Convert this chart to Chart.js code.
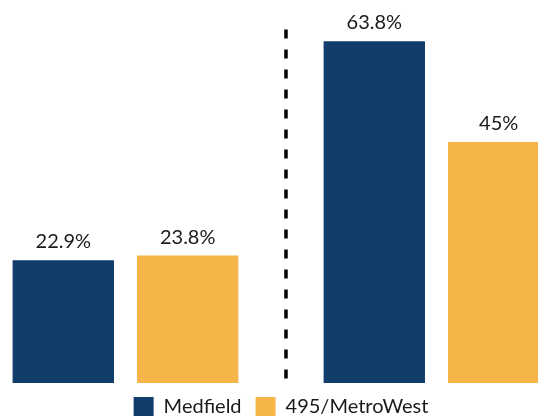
<!DOCTYPE html>
<html>
<head>
<meta charset="utf-8">
<script src="https://cdn.jsdelivr.net/npm/chart.js@4"></script>
<style>
  html, body { margin: 0; padding: 0; background: #ffffff; overflow: hidden; width: 538px; height: 416px; }
  #wrap { position: absolute; left: -30px; top: 0; width: 622px; height: 430px; }
</style>
</head>
<body>
<div id="wrap"><canvas id="c"></canvas></div>
<script>
const categories = ['Group A', 'Group B'];
const seriesNames = ['Medfield', '495/MetroWest'];
const medfieldValues = [22.9, 63.8];
const metroWestValues = [23.8, 45];
const seriesColors = ['#113d6b', '#f5b548'];
const dividerIndex = 0.516;
const dividerRange = [0, 66];

const valueLabels = {
  id: 'valueLabels',
  afterDatasetsDraw(chart) {
    const ctx = chart.ctx;
    ctx.save();
    ctx.font = '20px Lato';
    ctx.fillStyle = '#1a1a1a';
    ctx.textAlign = 'center';
    ctx.textBaseline = 'alphabetic';
    chart.data.datasets.forEach((ds, di) => {
      const meta = chart.getDatasetMeta(di);
      meta.data.forEach((bar, i) => {
        ctx.fillText(ds.data[i] + '%', bar.x, bar.y - 12);
      });
    });
    ctx.restore();
  }
};

const divider = {
  id: 'divider',
  afterDatasetsDraw(chart) {
    const ctx = chart.ctx;
    const x = chart.scales.x.getPixelForValue(dividerIndex);
    const y0 = chart.scales.y.getPixelForValue(dividerRange[1]);
    const y1 = chart.scales.y.getPixelForValue(dividerRange[0]);
    ctx.save();
    ctx.strokeStyle = '#000000';
    ctx.lineWidth = 3.5;
    ctx.setLineDash([9, 11]);
    ctx.beginPath();
    ctx.moveTo(x, y0);
    ctx.lineTo(x, y1);
    ctx.stroke();
    ctx.restore();
  }
};

new Chart(document.getElementById('c'), {
  type: 'bar',
  data: {
    labels: categories,
    datasets: [
      { label: seriesNames[0], data: medfieldValues, backgroundColor: seriesColors[0] },
      { label: seriesNames[1], data: metroWestValues, backgroundColor: seriesColors[1] }
    ]
  },
  options: {
    responsive: true,
    maintainAspectRatio: false,
    animation: false,
    categoryPercentage: 0.8,
    barPercentage: 0.815,
    layout: { padding: { top: 8, bottom: 3 } },
    scales: {
      x: { display: false },
      y: { display: false, min: 0, max: 70 }
    },
    plugins: {
      tooltip: { enabled: false },
      legend: {
        position: 'bottom',
        labels: {
          boxWidth: 20,
          boxHeight: 20,
          padding: 14,
          color: '#1a1a1a',
          font: { family: 'Lato', size: 20 }
        }
      }
    }
  },
  plugins: [valueLabels, divider]
});
</script>
</body>
</html>
